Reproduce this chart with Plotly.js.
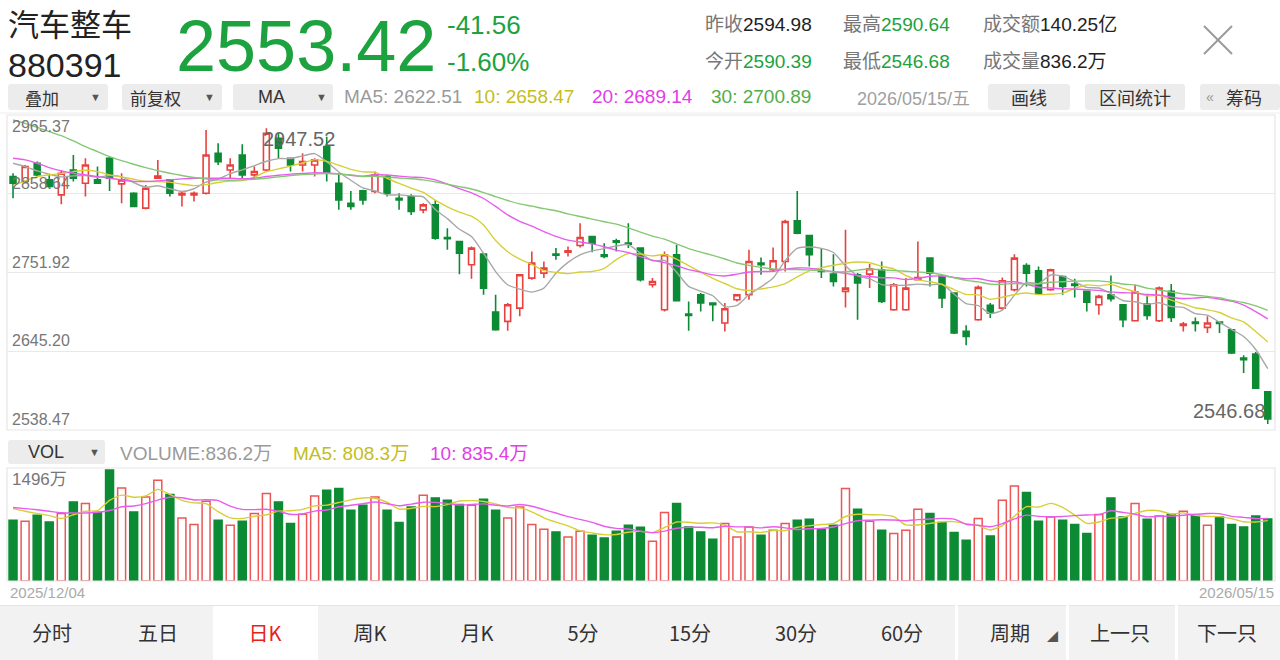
<!DOCTYPE html>
<html><head><meta charset="utf-8">
<script src="https://cdn.plot.ly/plotly-3.0.1.min.js"></script>
<style>
body{margin:0;width:1280px;height:660px;overflow:hidden;background:#fff;font-family:"Liberation Sans","Noto Sans CJK SC",sans-serif;position:relative}
#chart{position:absolute;left:0;top:0;width:1280px;height:660px}
.a{position:absolute;white-space:nowrap;z-index:2}
.btn{position:absolute;background:#ececec;border-radius:3px;z-index:1}
.lb{color:#777;font-family:"Noto Sans CJK SC",sans-serif}
.cell{position:absolute;top:605px;height:55px;line-height:55px;width:100px;text-align:center;font-size:20px;color:#333;z-index:2;font-family:"Noto Sans CJK SC",sans-serif}
</style></head><body>
<div id="chart"></div>

<div class="a" style="left:8px;top:0px;font-size:31px;line-height:45px;color:#222;font-family:'Noto Sans CJK SC',sans-serif">汽车整车</div>
<div class="a" style="left:8px;top:45.5px;font-size:34px;line-height:38px;color:#222">880391</div>
<div class="a" style="left:176px;top:6px;font-size:72px;line-height:80px;color:#1ca23e">2553.42</div>
<div class="a" style="left:447px;top:10px;font-size:26px;line-height:30px;color:#1ca23e">-41.56</div>
<div class="a" style="left:447px;top:47px;font-size:26px;line-height:30px;color:#1ca23e">-1.60%</div>

<div class="a" style="left:705px;top:12px;font-size:19px;line-height:22px"><span class="lb">昨收</span><span style="color:#222">2594.98</span></div>
<div class="a" style="left:843px;top:12px;font-size:19px;line-height:22px"><span class="lb">最高</span><span style="color:#1ca23e">2590.64</span></div>
<div class="a" style="left:983px;top:12px;font-size:19px;line-height:22px"><span class="lb">成交额</span><span style="color:#222">140.25</span><span style="color:#222;font-family:'Noto Sans CJK SC'">亿</span></div>
<div class="a" style="left:705px;top:49px;font-size:19px;line-height:22px"><span class="lb">今开</span><span style="color:#1ca23e">2590.39</span></div>
<div class="a" style="left:843px;top:49px;font-size:19px;line-height:22px"><span class="lb">最低</span><span style="color:#1ca23e">2546.68</span></div>
<div class="a" style="left:983px;top:49px;font-size:19px;line-height:22px"><span class="lb">成交量</span><span style="color:#222">836.2</span><span style="color:#222;font-family:'Noto Sans CJK SC'">万</span></div>
<svg class="a" style="left:1202px;top:24px" width="32" height="32"><line x1="2" y1="2" x2="30" y2="30" stroke="#9a9a9a" stroke-width="2"/><line x1="30" y1="2" x2="2" y2="30" stroke="#9a9a9a" stroke-width="2"/></svg>

<div class="btn" style="left:8px;top:84px;width:100px;height:26px"></div>
<div class="a" style="left:25px;top:85px;font-size:17px;line-height:26px;color:#333;font-family:'Noto Sans CJK SC'">叠加</div>
<div class="a" style="left:90px;top:84px;font-size:11px;line-height:26px;color:#555">▼</div>
<div class="btn" style="left:122px;top:84px;width:100px;height:26px"></div>
<div class="a" style="left:130px;top:85px;font-size:17px;line-height:26px;color:#333;font-family:'Noto Sans CJK SC'">前复权</div>
<div class="a" style="left:204px;top:84px;font-size:11px;line-height:26px;color:#555">▼</div>
<div class="btn" style="left:233px;top:84px;width:100px;height:26px"></div>
<div class="a" style="left:258px;top:84px;font-size:18px;line-height:26px;color:#333">MA</div>
<div class="a" style="left:316px;top:84px;font-size:11px;line-height:26px;color:#555">▼</div>
<div class="a" style="left:344px;top:84px;font-size:19px;line-height:26px;color:#9a9a9a">MA5: 2622.51</div>
<div class="a" style="left:474px;top:84px;font-size:19px;line-height:26px;color:#c4bd1c">10: 2658.47</div>
<div class="a" style="left:592px;top:84px;font-size:19px;line-height:26px;color:#e03ee6">20: 2689.14</div>
<div class="a" style="left:711px;top:84px;font-size:19px;line-height:26px;color:#52ad48">30: 2700.89</div>
<div class="a" style="left:857px;top:84px;font-size:18px;line-height:26px;color:#a0a0a0">2026/05/15/<span style="font-family:'Noto Sans CJK SC'">五</span></div>
<div class="btn" style="left:988px;top:84px;width:82px;height:26px"></div>
<div class="a" style="left:988px;top:84px;width:82px;text-align:center;font-size:18px;line-height:26px;color:#333;font-family:'Noto Sans CJK SC'">画线</div>
<div class="btn" style="left:1085px;top:84px;width:100px;height:26px"></div>
<div class="a" style="left:1085px;top:84px;width:100px;text-align:center;font-size:18px;line-height:26px;color:#333;font-family:'Noto Sans CJK SC'">区间统计</div>
<div class="btn" style="left:1200px;top:84px;width:80px;height:26px"></div>
<div class="a" style="left:1206px;top:84px;font-size:14px;line-height:26px;color:#999">«</div>
<div class="a" style="left:1226px;top:84px;font-size:18px;line-height:26px;color:#333;font-family:'Noto Sans CJK SC'">筹码</div>

<div class="btn" style="left:8px;top:440px;width:97px;height:24px"></div>
<div class="a" style="left:28px;top:440px;font-size:18px;line-height:24px;color:#333">VOL</div>
<div class="a" style="left:89px;top:440px;font-size:11px;line-height:24px;color:#555">▼</div>
<div class="a" style="left:120px;top:440px;font-size:19px;line-height:24px;color:#9a9a9a">VOLUME:836.2<span style="font-family:'Noto Sans CJK SC'">万</span></div>
<div class="a" style="left:293px;top:440px;font-size:19px;line-height:24px;color:#c4bd1c">MA5: 808.3<span style="font-family:'Noto Sans CJK SC'">万</span></div>
<div class="a" style="left:430px;top:440px;font-size:19px;line-height:24px;color:#e03ee6">10: 835.4<span style="font-family:'Noto Sans CJK SC'">万</span></div>

<div style="position:absolute;left:0;top:605px;width:1280px;height:55px;background:#f2f2f2;z-index:1;border-top:1px solid #e4e4e4;box-sizing:border-box"></div>
<div style="position:absolute;left:213px;top:606px;width:105px;height:54px;background:#fff;z-index:1"></div>
<div style="position:absolute;left:955px;top:605px;width:3px;height:55px;background:#fff;z-index:1"></div>
<div style="position:absolute;left:1066px;top:605px;width:3px;height:55px;background:#fff;z-index:1"></div>
<div style="position:absolute;left:1175px;top:605px;width:3px;height:55px;background:#fff;z-index:1"></div>
<div class="cell" style="left:2px">分时</div>
<div class="cell" style="left:108px">五日</div>
<div class="cell" style="left:215px;color:#e8221b">日K</div>
<div class="cell" style="left:320px">周K</div>
<div class="cell" style="left:427px">月K</div>
<div class="cell" style="left:533px">5分</div>
<div class="cell" style="left:640px">15分</div>
<div class="cell" style="left:746px">30分</div>
<div class="cell" style="left:852px">60分</div>
<div class="cell" style="left:960px">周期</div>
<div class="a" style="left:1047px;top:630px;font-size:11px;line-height:14px;color:#555">◢</div>
<div class="cell" style="left:1070px">上一只</div>
<div class="cell" style="left:1177px">下一只</div>

<script>
// ---- data ----
const openP  = [2881.9,2875.2,2900.0,2877.4,2857.1,2890.9,2872.9,2877.4,2906.7,2872.0,
                2859.4,2839.1,2879.7,2877.4,2857.1,2857.1,2859.4,2913.5,2890.9,2911.2,
                2884.2,2890.9,2933.8,2906.7,2897.7,2897.7,2922.5,2872.9,2845.8,2862.5,
                2861.6,2881.9,2852.6,2854.9,2836.8,2843.6,2799.4,2793.9,2762.4,2776.8,
                2698.3,2685.7,2703.7,2744.3,2751.1,2776.8,2779.5,2788.5,2800.7,2775.9,
                2794.9,2791.7,2785.0,2735.3,2701.5,2775.9,2695.6,2721.8,2710.5,2683.4,
                2715.0,2721.8,2764.6,2755.6,2766.9,2821.9,2802.1,2754.7,2749.7,2726.3,
                2748.8,2749.7,2755.6,2701.5,2701.5,2742.1,2771.4,2746.6,2724.0,2672.1,
                2687.9,2707.3,2703.7,2728.5,2761.5,2754.3,2728.5,2746.6,2736.2,2726.3,
                2708.2,2721.8,2708.2,2686.6,2709.1,2686.6,2726.3,2680.3,2684.8,2677.6,
                2684.8,2674.4,2636.1,2641.5,2590.39];
const highP  = [2886.4,2897.7,2902.2,2884.2,2890.9,2911.2,2906.7,2895.5,2909.0,2886.4,
                2860.7,2870.6,2904.5,2877.9,2861.6,2861.6,2945.1,2927.0,2906.7,2925.7,
                2895.5,2947.52,2940.6,2907.2,2913.5,2906.7,2936.0,2886.4,2862.5,2863.9,
                2888.7,2884.2,2859.4,2858.0,2845.8,2850.3,2812.0,2794.4,2787.2,2778.2,
                2721.8,2710.5,2749.7,2780.4,2766.9,2785.0,2787.2,2818.8,2801.2,2791.7,
                2797.6,2818.8,2785.5,2744.3,2780.4,2789.4,2712.7,2724.0,2711.0,2710.5,
                2722.3,2782.7,2772.3,2785.8,2823.3,2862.5,2803.0,2785.0,2776.8,2809.7,
                2751.1,2763.3,2766.9,2737.6,2744.3,2793.9,2771.9,2748.8,2724.5,2680.3,
                2734.4,2710.5,2745.2,2776.8,2764.6,2760.1,2757.0,2748.0,2743.4,2726.8,
                2721.8,2747.9,2709.1,2735.3,2721.8,2733.0,2736.2,2684.8,2691.1,2692.5,
                2685.7,2674.9,2639.7,2644.2,2590.64];
const lowP   = [2852.6,2872.9,2881.9,2866.1,2844.5,2875.2,2854.9,2872.0,2862.5,2845.8,
                2840.4,2837.7,2879.0,2854.9,2841.3,2848.1,2857.5,2897.7,2879.7,2879.7,
                2879.7,2889.5,2906.7,2888.7,2888.7,2881.9,2875.2,2836.8,2836.8,2843.6,
                2859.4,2854.9,2836.8,2830.0,2832.3,2796.2,2782.7,2749.7,2743.4,2721.8,
                2673.0,2673.0,2692.5,2742.1,2744.3,2769.1,2773.7,2785.8,2779.5,2771.4,
                2780.4,2785.0,2739.8,2731.7,2699.2,2712.7,2673.0,2699.2,2685.7,2672.1,
                2712.7,2715.0,2748.8,2753.4,2753.4,2803.9,2760.1,2744.3,2733.0,2704.6,
                2687.9,2730.8,2710.5,2700.1,2700.1,2741.6,2733.0,2703.7,2668.5,2653.2,
                2686.6,2690.2,2701.5,2726.3,2733.0,2721.8,2727.2,2721.8,2718.2,2699.2,
                2694.7,2712.7,2677.6,2685.7,2687.9,2684.8,2684.8,2672.1,2672.1,2669.9,
                2669.9,2641.5,2615.8,2594.5,2546.68];
const closeP = [2872.9,2895.5,2884.2,2868.4,2886.4,2879.7,2897.7,2872.9,2879.7,2877.4,
                2841.3,2866.1,2882.8,2859.4,2859.4,2859.4,2911.2,2902.2,2897.7,2884.2,
                2888.7,2940.6,2920.3,2897.7,2902.2,2904.5,2886.4,2850.3,2841.3,2850.3,
                2884.2,2859.4,2850.3,2834.5,2843.6,2798.5,2797.6,2778.2,2785.0,2730.8,
                2674.4,2708.2,2748.8,2764.6,2757.9,2775.4,2781.3,2799.4,2791.7,2773.7,
                2793.0,2790.3,2742.1,2739.8,2775.9,2713.6,2693.8,2710.5,2708.2,2702.8,
                2721.8,2766.9,2762.4,2767.8,2821.0,2805.2,2775.9,2753.3,2739.8,2730.8,
                2737.6,2757.0,2712.7,2735.3,2730.8,2745.2,2751.1,2717.3,2669.9,2665.4,
                2731.7,2697.0,2740.7,2771.4,2751.1,2724.0,2755.6,2733.0,2734.4,2711.8,
                2719.5,2716.4,2687.9,2725.4,2693.8,2730.8,2691.1,2682.1,2683.0,2683.4,
                2683.0,2642.8,2633.8,2594.98,2553.42];
// volume in 万
const volume = [818,805,886,795,908,1065,1043,922,1496,1254,
                930,1132,1357,1165,849,760,1074,818,751,805,
                908,1178,1065,774,899,1146,1223,1245,953,1020,
                1132,953,787,998,1155,1119,1088,1030,1020,1101,
                953,849,998,760,697,661,593,670,616,580,
                670,751,724,535,922,1043,728,661,562,774,
                593,728,616,683,774,818,832,697,751,1245,
                966,805,683,639,683,966,908,787,652,548,
                841,607,1088,1281,1191,805,863,818,760,639,
                895,1119,863,1043,832,876,895,940,886,751,
                863,760,728,876,836.2];
// moving-average values before a full window exists
const ma5Lead  = [2900.0,2895.5,2889.6,2885.1];
const ma10Lead = [2869.7,2876.1,2881.9,2884.2,2886.0,2888.7,2890.5,2888.7,2884.2];
const ma20Lead = [2906.7,2904.5,2900.0,2894.1,2889.6,2886.4,2884.2,2881.9,2879.7,2877.4,
                  2875.2,2875.2,2876.1,2877.4,2878.8,2879.7,2879.7,2879.7,2879.7];
const ma30Lead = [2958.6,2954.1,2948.7,2942.8,2937.4,2930.2,2922.5,2915.8,2909.0,2903.6,
                  2898.6,2894.1,2890.0,2886.4,2883.3,2880.6,2878.8,2877.4,2877.0,2877.4,
                  2878.3,2879.7,2881.5,2883.3,2884.6,2885.5,2886.0,2885.5,2884.2];
const volMa5Lead  = [976,940,910,880];
const volMa10Lead = [989,975,960,940,920,915,915,925,950];
const priceTicks = [2538.47,2645.20,2751.92,2858.64,2965.37];
const priceTickLabels = ["2538.47","2645.20","2751.92","2858.64","2965.37"];
const volTopLabel = "1496万";
const firstDate = "2025/12/04", lastDate = "2026/05/15";
const maxLabel = "2947.52", minLabel = "2546.68";

// ---- build ----
const N = closeP.length;
const xs = closeP.map((_, i) => i);
function ma(arr, n, lead){
  return arr.map((_, i) => {
    if (i < n - 1) return lead[i];
    let s = 0; for (let k = i - n + 1; k <= i; k++) s += arr[k];
    return s / n;
  });
}
const RED = '#e8423f', GREEN = '#0c8b34';
const up = closeP.map((c, i) => c >= openP[i]);
const W = 1280, H = 660;
const px = x => x / W, py = y => (H - y) / H;

const traces = [
  {type:'candlestick', x:xs, open:openP, high:highP, low:lowP, close:closeP,
   xaxis:'x', yaxis:'y', whiskerwidth:0, hoverinfo:'skip', showlegend:false,
   increasing:{line:{color:RED, width:1.6}, fillcolor:'#ffffff'},
   decreasing:{line:{color:GREEN, width:1.6}, fillcolor:GREEN}},
  {type:'scatter', mode:'lines', x:xs, y:ma(closeP,5,ma5Lead), line:{color:'#a8a8a8', width:1.4, shape:'spline', smoothing:0.6}, hoverinfo:'skip', showlegend:false},
  {type:'scatter', mode:'lines', x:xs, y:ma(closeP,10,ma10Lead), line:{color:'#d6cf38', width:1.4, shape:'spline', smoothing:0.6}, hoverinfo:'skip', showlegend:false},
  {type:'scatter', mode:'lines', x:xs, y:ma(closeP,20,ma20Lead), line:{color:'#e95cee', width:1.4, shape:'spline', smoothing:0.6}, hoverinfo:'skip', showlegend:false},
  {type:'scatter', mode:'lines', x:xs, y:ma(closeP,30,ma30Lead), line:{color:'#84c873', width:1.4, shape:'spline', smoothing:0.6}, hoverinfo:'skip', showlegend:false},
  {type:'bar', x:xs, y:volume, xaxis:'x2', yaxis:'y2', width:0.66, hoverinfo:'skip', showlegend:false,
   marker:{color:up.map(u => u ? '#ffffff' : GREEN), line:{color:up.map(u => u ? '#ec5656' : GREEN), width:1.5}}},
  {type:'scatter', mode:'lines', x:xs, y:ma(volume,5,volMa5Lead), xaxis:'x2', yaxis:'y2', line:{color:'#d6cf38', width:1.4, shape:'spline', smoothing:0.6}, hoverinfo:'skip', showlegend:false},
  {type:'scatter', mode:'lines', x:xs, y:ma(volume,10,volMa10Lead), xaxis:'x2', yaxis:'y2', line:{color:'#e95cee', width:1.4, shape:'spline', smoothing:0.6}, hoverinfo:'skip', showlegend:false}
];

const xr = [-0.5, N - 0.4];
const annotations = priceTicks.map((v, i) => ({
  xref:'paper', x:px(10), xanchor:'left', yref:'y', y:v,
  yanchor: i === priceTicks.length - 1 ? 'top' : 'bottom', yshift: i === priceTicks.length - 1 ? -1 : 0,
  text:priceTickLabels[i], showarrow:false, font:{size:16, color:'#777', family:'Liberation Sans'}
}));
const iMax = highP.indexOf(Math.max(...highP));
const iMin = lowP.indexOf(Math.min(...lowP));
annotations.push({xref:'x', x:iMax, xanchor:'left', xshift:-5, yref:'y', y:highP[iMax], yanchor:'top', yshift:2,
  text:maxLabel, showarrow:false, font:{size:20, color:'#666', family:'Liberation Sans'}});
annotations.push({xref:'x', x:iMin, xanchor:'right', xshift:-1, yref:'y', y:lowP[iMin], yanchor:'bottom', yshift:0,
  text:minLabel, showarrow:false, font:{size:20, color:'#666', family:'Liberation Sans'}});
annotations.push({xref:'paper', x:px(10), xanchor:'left', yref:'y2', y:1496, yanchor:'top', yshift:2,
  text:volTopLabel, showarrow:false, font:{size:17, color:'#777', family:'Liberation Sans, Noto Sans CJK SC'}});
annotations.push({xref:'paper', x:px(8), xanchor:'left', yref:'paper', y:py(592), yanchor:'middle',
  text:firstDate, showarrow:false, font:{size:15, color:'#aaa', family:'Liberation Sans'}});
annotations.push({xref:'paper', x:px(1276), xanchor:'right', yref:'paper', y:py(592), yanchor:'middle',
  text:lastDate, showarrow:false, font:{size:15, color:'#aaa', family:'Liberation Sans'}});

const layout = {
  width:W, height:H, margin:{l:0, r:0, t:0, b:0},
  paper_bgcolor:'rgba(0,0,0,0)', plot_bgcolor:'rgba(0,0,0,0)',
  showlegend:false, dragmode:false,
  xaxis:{domain:[px(7), px(1275)], range:xr, showgrid:false, showticklabels:false, zeroline:false, showline:false, ticks:'', rangeslider:{visible:false}, anchor:'y', fixedrange:true},
  yaxis:{domain:[py(430), py(115)], range:[priceTicks[0], priceTicks[4]], tickvals:priceTicks, showticklabels:false, gridcolor:'#e9e9e9', gridwidth:1.2, zeroline:false, ticks:'', anchor:'x', fixedrange:true},
  xaxis2:{domain:[px(7), px(1275)], range:xr, showgrid:false, showticklabels:false, zeroline:false, ticks:'', anchor:'y2', fixedrange:true},
  yaxis2:{domain:[py(581), py(468)], range:[0, 1522], showgrid:false, showticklabels:false, zeroline:false, ticks:'', anchor:'x2', fixedrange:true},
  boxgap:0.3,
  shapes:[
    {type:'rect', xref:'paper', yref:'paper', x0:px(7), x1:px(1275), y0:py(430), y1:py(115), line:{color:'#e6e6e6', width:1.2}},
    {type:'rect', xref:'paper', yref:'paper', x0:px(7), x1:px(1275), y0:py(581), y1:py(468), line:{color:'#e6e6e6', width:1.2}},
    {type:'line', xref:'paper', yref:'paper', x0:0, x1:1, y0:py(113), y1:py(113), line:{color:'#eeeeee', width:1}}
  ],
  annotations:annotations
};
Plotly.newPlot('chart', traces, layout, {staticPlot:true, displayModeBar:false});
</script>
</body></html>
